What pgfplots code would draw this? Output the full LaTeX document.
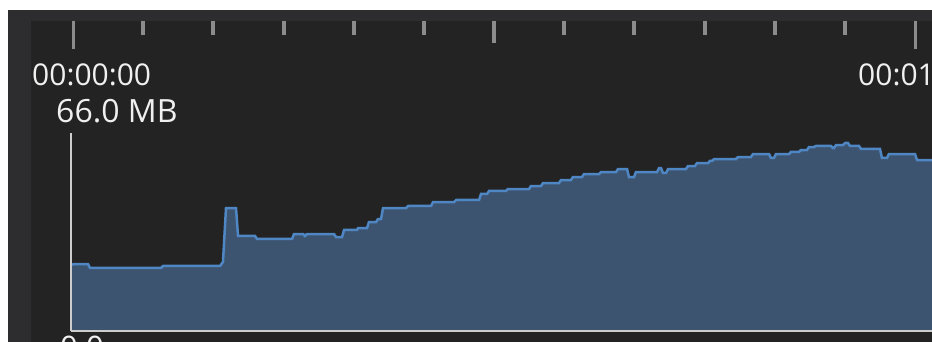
\documentclass[border=0pt]{standalone}
\usepackage{pgfplots}
\pgfplotsset{compat=1.18}
\usepackage{pgfplotstable}
\usepackage{fontspec}
\setmainfont{Open Sans}
\definecolor{outerbg}{RGB}{45,45,48}
\definecolor{innerbg}{RGB}{35,35,35}
\definecolor{areafill}{RGB}{61,84,112}
\definecolor{linecol}{RGB}{79,134,196}
\definecolor{axiscol}{RGB}{205,205,205}
\definecolor{tickcol}{RGB}{140,140,140}
\definecolor{txtcol}{RGB}{240,240,240}
% time (ms), memory (MB)
\pgfplotstableread{
t mb
-2.4 22.0
1.2 22.33
17.8 22.33
20.2 21.0
104.5 21.0
106.9 21.67
174.6 21.67
178.1 23.0
181.7 41.0
193.6 41.0
196.0 31.67
216.2 31.67
218.5 30.67
260.1 30.67
262.5 32.33
273.2 32.33
275.5 31.67
277.9 32.33
310.0 32.33
312.4 31.33
319.5 31.33
321.9 33.67
337.3 33.67
338.5 34.33
349.2 34.33
351.5 36.33
359.9 36.33
362.2 37.33
365.8 37.33
368.2 41.0
395.5 41.0
397.9 41.67
425.2 41.67
427.6 43.0
452.5 43.0
454.9 43.67
482.2 43.67
484.6 45.67
491.7 45.67
494.1 46.67
514.2 46.67
516.6 47.33
541.6 47.33
543.9 48.33
555.8 48.33
558.2 49.33
577.2 49.33
579.6 50.33
591.4 50.33
593.8 51.33
604.5 51.33
606.9 52.33
624.7 52.33
627.1 53.0
644.9 53.0
647.3 54.0
658.0 54.0
660.3 51.33
666.3 51.33
668.6 53.0
693.6 53.0
696.0 54.33
698.3 54.33
700.7 52.67
704.3 52.67
706.7 54.0
728.0 54.0
730.4 55.0
738.7 55.0
741.1 56.0
754.2 56.0
756.5 56.67
758.9 56.67
761.3 57.33
787.4 57.33
789.8 58.0
805.2 58.0
807.6 59.0
826.6 59.0
829.0 57.67
832.5 57.67
834.9 59.0
850.4 59.0
852.7 59.67
862.2 59.67
864.6 60.33
871.7 60.33
874.1 61.33
880.0 61.33
882.4 61.67
900.2 61.67
902.6 61.0
903.8 61.0
906.2 62.0
914.5 62.0
916.9 62.67
920.4 62.67
922.8 61.67
933.5 61.67
935.9 60.67
958.4 60.67
960.8 57.67
966.7 57.67
969.1 59.0
1000.0 59.0
1002.4 57.0
1020.2 57.0
}\memdata
\begin{document}
\begin{tikzpicture}[x=1pt,y=1pt]
\useasboundingbox (0,0) rectangle (932,342);
\clip (0,0) rectangle (932,342);
\fill[white] (0,0) rectangle (932,342);
\fill[outerbg] (8,0) rectangle (932,332);
\fill[innerbg] (31,0) rectangle (932,321);
% time ruler ticks
\foreach \i in {0,...,12}{
  \pgfmathsetmacro{\xx}{73+\i*70.17}
  \ifnum\i=0 \fill[tickcol] (\xx-1.5,293) rectangle (\xx+1.5,321);
  \else\ifnum\i=12 \fill[tickcol] (\xx-1.5,293) rectangle (\xx+1.5,321);
  \else\ifnum\i=6 \fill[tickcol] (\xx-2,299) rectangle (\xx+2,321);
  \else \fill[tickcol] (\xx-2,307) rectangle (\xx+2,321);
  \fi\fi\fi
}
\node[anchor=west,inner sep=0pt,text=txtcol,font=\fontsize{30}{33}\selectfont] at (32,267) {00:00:00};
\node[anchor=west,inner sep=0pt,text=txtcol,font=\fontsize{30}{33}\selectfont] at (858,267) {00:01};
\node[anchor=west,inner sep=0pt,text=txtcol,font=\fontsize{32}{35}\selectfont] at (56,231) {66.0 MB};
\node[anchor=north west,inner sep=0pt,text=txtcol,font=\fontsize{31}{34}\selectfont] at (60,6) {0.0};
\begin{axis}[
  at={(71pt,11pt)}, anchor=south west,
  scale only axis, width=861pt, height=198pt,
  xmin=-2.4, xmax=1020.2, ymin=0, ymax=66,
  axis x line*=bottom, axis y line*=left,
  axis line style={-, draw=axiscol, line width=2.5pt},
  xtick=\empty, ytick=\empty,
  axis on top, clip=true,
]
\addplot[fill=areafill, draw=none] table[x=t,y=mb]{\memdata} \closedcycle;
\addplot[draw=linecol, line width=2.5pt] table[x=t,y=mb]{\memdata};
\end{axis}
\end{tikzpicture}
\end{document}
